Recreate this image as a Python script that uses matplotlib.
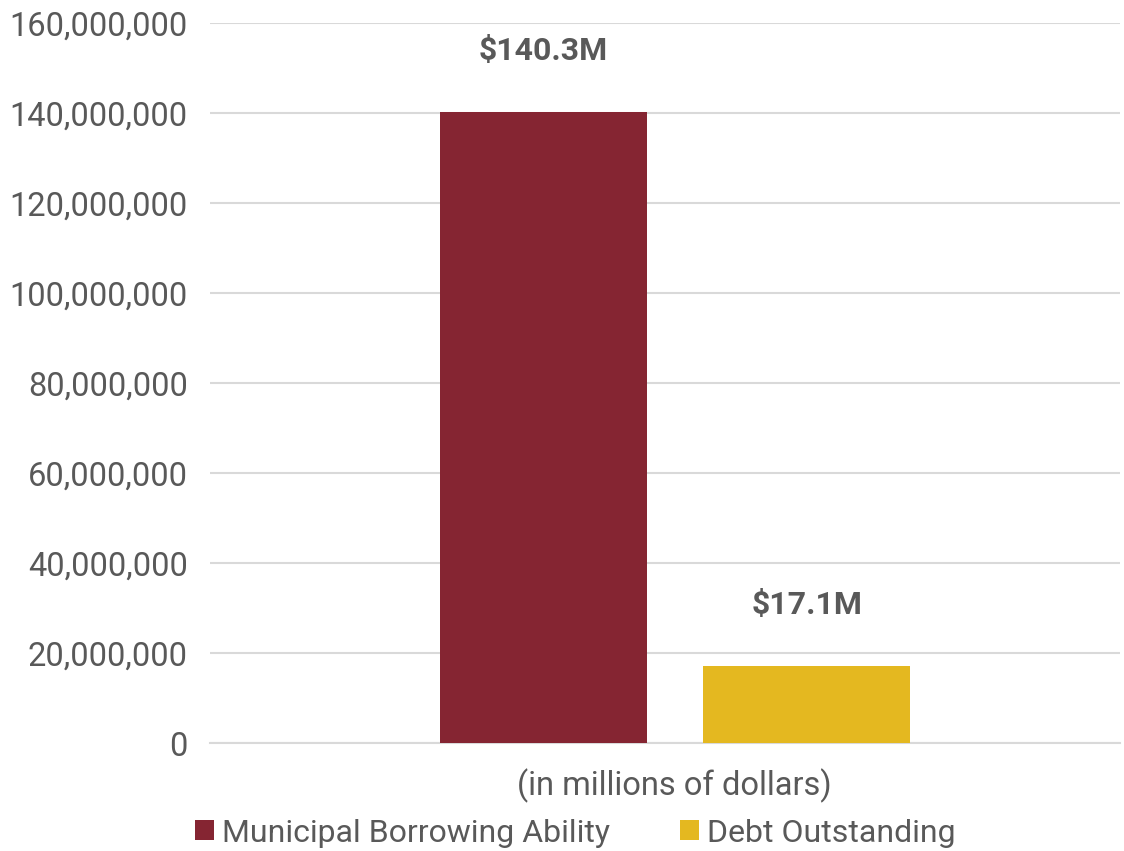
import matplotlib.pyplot as plt
from matplotlib.ticker import FuncFormatter

# data
series = ["Municipal Borrowing Ability", "Debt Outstanding"]
values = [140300000, 17100000]
value_labels = ["$140.3M", "$17.1M"]
category = "(in millions of dollars)"
colors = ["#852532", "#E4B820"]

plt.rcParams['font.family'] = ['Roboto', 'DejaVu Sans']
text_col = "#595959"

fig = plt.figure(figsize=(11.24, 8.51), dpi=100)
ax = fig.add_axes([210 / 1124, 1 - 743 / 851, 910 / 1124, 720 / 851])

offsets = [-0.134, 0.156]
width = 0.2275
for off, v, c, name, lab in zip(offsets, values, colors, series, value_labels):
    ax.bar(off, v, width=width, color=c, label=name, zorder=3)
    ax.annotate(lab, (off, v), xytext=(0, 44), textcoords='offset points',
                ha='center', va='center', fontsize=23, fontweight='bold',
                color=text_col)

ax.set_xlim(-0.5, 0.5)
ax.set_ylim(0, 160000000)
ax.set_yticks(range(0, 160000001, 20000000))
ax.yaxis.set_major_formatter(FuncFormatter(lambda v, p: f"{int(v):,}"))
ax.tick_params(axis='y', length=0, pad=16, labelsize=23.5, labelcolor=text_col)
ax.set_xticks([0.01])
ax.set_xticklabels([category])
ax.tick_params(axis='x', length=0, pad=18, labelsize=23.5, labelcolor=text_col)

ax.grid(axis='y', color="#D9D9D9", linewidth=1.5, zorder=0)
for s in ['top', 'right', 'left']:
    ax.spines[s].set_visible(False)
ax.spines['bottom'].set_color("#D9D9D9")
ax.spines['bottom'].set_linewidth(1.5)

leg = fig.legend(loc='center', bbox_to_anchor=(0.512, 1 - 833 / 851), ncol=2,
                 frameon=False, fontsize=23, handlelength=0.6, handleheight=0.6,
                 handletextpad=0.25, columnspacing=2.2)
for t in leg.get_texts():
    t.set_color(text_col)

fig.savefig("out.png", dpi=100)
